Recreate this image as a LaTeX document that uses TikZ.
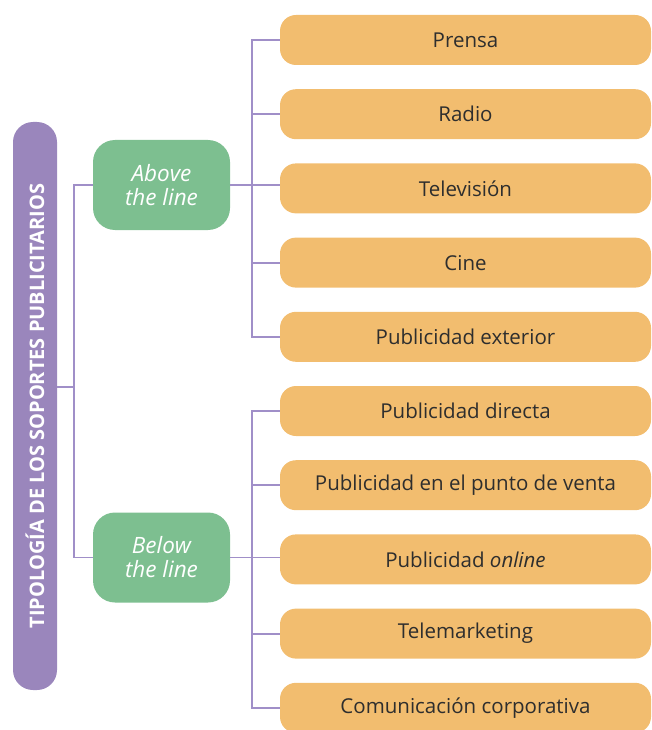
\documentclass[tikz,border=0pt]{standalone}
\usepackage{fontspec}
\setmainfont{Open Sans}
\usepackage{tikz}
\definecolor{lila}{HTML}{9A86BC}
\definecolor{lilaline}{HTML}{A08FC8}
\definecolor{verde}{HTML}{7DBF90}
\definecolor{naranja}{HTML}{F2BD6F}
\definecolor{texto}{HTML}{2E2E2E}
\tikzset{
  >=latex,
}
\tikzstyle{titulo}=[fill=lila,rounded corners=20pt,rotate=90,minimum width=568pt,minimum height=44pt,
  text=white,font=\fontsize{20}{22}\selectfont\bfseries,inner sep=0pt]
\tikzstyle{grupo}=[fill=verde,rounded corners=22pt,minimum width=137pt,minimum height=90pt,
  text=white,font=\fontsize{22.5}{24}\selectfont\itshape,align=center,inner sep=0pt]
\tikzstyle{soporte}=[fill=naranja,rounded corners=16pt,minimum width=371pt,minimum height=50pt,
  text=texto,font=\fontsize{20.5}{23}\selectfont,inner sep=0pt]
\tikzstyle{link}=[draw=lilaline,line width=1.8pt]

\begin{document}
\begin{tikzpicture}[x=1pt,y=-1pt]
    \useasboundingbox (0,0) rectangle (652,730);
    % title bar and the two groups
    \node[titulo] (tipologia) at (35,406) {TIPOLOGÍA DE LOS SOPORTES PUBLICITARIOS};
    \node[grupo] (above) at (161.5,185) {Above\\the line};
    \node[grupo] (below) at (161.5,557.5) {Below\\the line};
    % media boxes
    \node[soporte] (prensa) at (465.5,40) {Prensa};
    \node[soporte] (radio) at (465.5,114.2) {Radio};
    \node[soporte] (tele) at (465.5,188.4) {Televisión};
    \node[soporte] (cine) at (465.5,262.6) {Cine};
    \node[soporte] (exterior) at (465.5,336.8) {Publicidad exterior};
    \node[soporte] (directa) at (465.5,411) {Publicidad directa};
    \node[soporte] (venta) at (465.5,485.2) {Publicidad en el punto de venta};
    \node[soporte] (online) at (465.5,559.4) {Publicidad \textit{online}};
    \node[soporte] (telemk) at (465.5,633.6) {Telemarketing};
    \node[soporte] (corpo) at (465.5,707.8) {Comunicación corporativa};
    % connectors
    \coordinate (trunk) at (74,387);
    \draw[link] (tipologia.south |- trunk) -- (trunk);
    \draw[link] (above.west) -| (trunk) |- (below.west);
    \draw[link] (prensa.west) -- ++(-28,0) |- (exterior.west);
    \draw[link] (radio.west) -- ++(-28,0);
    \draw[link] (cine.west) -- ++(-28,0);
    \draw[link] (above.east) -- (above.east -| tele.west);
    \draw[link] (directa.west) -- ++(-28,0) |- (corpo.west);
    \draw[link] (venta.west) -- ++(-28,0);
    \draw[link] (telemk.west) -- ++(-28,0);
    \draw[link] (below.east) -- (below.east -| online.west);
\end{tikzpicture}
\end{document}
